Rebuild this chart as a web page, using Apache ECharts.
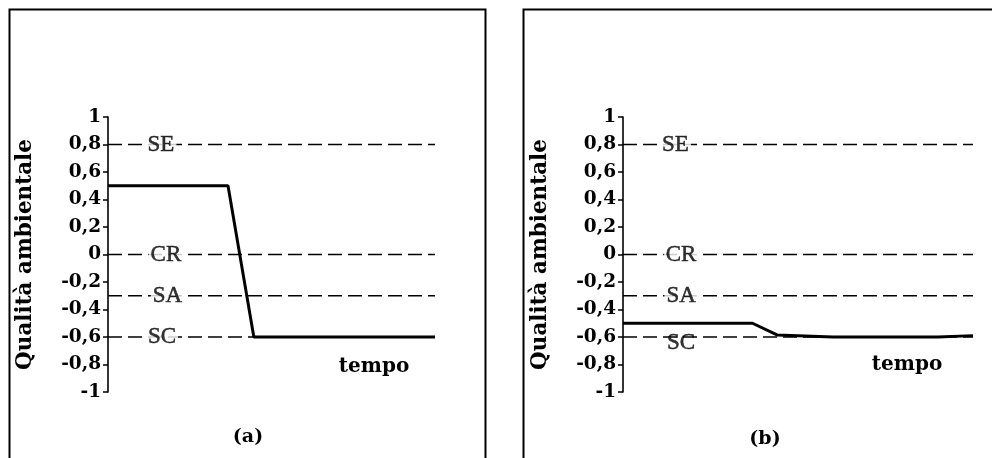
<!DOCTYPE html>
<html>
<head>
<meta charset="utf-8">
<script src="https://cdn.jsdelivr.net/npm/echarts@6/dist/echarts.min.js"></script>
<style>
  html, body { margin: 0; padding: 0; background: #fff; }
  #main { width: 992px; height: 458px; }
</style>
</head>
<body>
<div id="main"></div>
<script>
// tempo (0-100, asse nascosto) e qualità ambientale
var tempoA = [0, 36.7, 44.6, 100];
var qualitaA = [0.5, 0.5, -0.6, -0.6];
var tempoB = [0, 37, 44, 60, 90, 100];
var qualitaB = [-0.5, -0.5, -0.585, -0.6, -0.6, -0.59];

// soglie
var sogliaNomi = ['SE', 'CR', 'SA', 'SC'];
var sogliaValori = [0.8, 0, -0.3, -0.6];
// dove stanno le etichette delle soglie (coordinate dati)
var etichettaXA = [16.2, 17.7, 18.2, 16.5];
var etichettaYA = [0.8, 0, -0.3, -0.6];
var etichettaXB = [15, 16.6, 16.6, 16.6];
var etichettaYB = [0.8, 0, -0.3, -0.64];

var yTicks = { min: -1, max: 1, interval: 0.2 };

var font = 'DejaVu Serif';

function zip(xs, ys) {
  return xs.map(function (x, i) { return [x, ys[i]]; });
}

function yAxisFor(idx) {
  return {
    type: 'value',
    gridIndex: idx,
    min: yTicks.min,
    max: yTicks.max,
    interval: yTicks.interval,
    name: 'Qualità ambientale',
    nameLocation: 'middle',
    nameRotate: 90,
    nameGap: 72,
    nameTextStyle: { fontFamily: font, fontWeight: 'bold', fontSize: 21.5, color: '#000' },
    axisLine: { show: true, lineStyle: { color: '#000', width: 1.6 } },
    axisTick: { show: true, length: 5, lineStyle: { color: '#000', width: 1.5 } },
    splitLine: { show: false },
    axisLabel: {
      color: '#000',
      fontFamily: font,
      fontWeight: 'bold',
      fontSize: 18.5,
      margin: 7,
      formatter: function (v) {
        var r = Math.round(v * 10) / 10;
        return String(r).replace('.', ',');
      }
    }
  };
}

function xAxisFor(idx) {
  return { type: 'value', gridIndex: idx, min: 0, max: 100, show: false };
}

function thresholdSeries(idx) {
  return sogliaValori.map(function (v, i) {
    return {
      type: 'line',
      xAxisIndex: idx,
      yAxisIndex: idx,
      data: [[0, v], [100, v]],
      symbol: 'none',
      silent: true,
      z: 2,
      lineStyle: { color: '#000', width: 1.4, type: [14, 6] }
    };
  });
}

function labelSeries(idx, xs, ys, bgLast) {
  return {
    type: 'scatter',
    xAxisIndex: idx,
    yAxisIndex: idx,
    symbolSize: 0,
    silent: true,
    z: 3,
    data: sogliaNomi.map(function (n, i) {
      var item = { value: [xs[i], ys[i]], name: n };
      if (!bgLast && i === sogliaNomi.length - 1) {
        item.label = { backgroundColor: 'transparent' };
      }
      return item;
    }),
    label: {
      show: true,
      position: 'inside',
      formatter: '{b}',
      color: '#000',
      fontFamily: 'Liberation Serif',
      fontSize: 23,
      textBorderColor: '#000',
      textBorderWidth: 0.5,
      backgroundColor: '#fff',
      padding: [0, 2]
    }
  };
}

function mainSeries(idx, xs, ys) {
  return {
    type: 'line',
    xAxisIndex: idx,
    yAxisIndex: idx,
    data: zip(xs, ys),
    symbol: 'none',
    z: 4,
    lineStyle: { color: '#000', width: 3 }
  };
}

var option = {
  animation: false,
  backgroundColor: '#fff',
  grid: [
    { left: 108, right: 557, top: 117, bottom: 66 },
    { left: 623, right: 19, top: 117, bottom: 66 }
  ],
  xAxis: [xAxisFor(0), xAxisFor(1)],
  yAxis: [yAxisFor(0), yAxisFor(1)],
  series: []
    .concat(thresholdSeries(0))
    .concat(thresholdSeries(1))
    .concat([
      labelSeries(0, etichettaXA, etichettaYA, true),
      labelSeries(1, etichettaXB, etichettaYB, false),
      mainSeries(0, tempoA, qualitaA),
      mainSeries(1, tempoB, qualitaB)
    ]),
  graphic: [
    { type: 'rect', shape: { x: 9.5, y: 9.5, width: 476, height: 470 },
      style: { fill: 'none', stroke: '#000', lineWidth: 2 } },
    { type: 'rect', shape: { x: 523.5, y: 9.5, width: 480, height: 470 },
      style: { fill: 'none', stroke: '#000', lineWidth: 2 } },
    { type: 'text', x: 374, y: 367,
      style: { text: 'tempo', font: 'bold 20px "DejaVu Serif"', fill: '#000', textAlign: 'center', textVerticalAlign: 'middle' } },
    { type: 'text', x: 907, y: 365,
      style: { text: 'tempo', font: 'bold 20px "DejaVu Serif"', fill: '#000', textAlign: 'center', textVerticalAlign: 'middle' } },
    { type: 'text', x: 248, y: 437,
      style: { text: '(a)', font: 'bold 19px "DejaVu Serif"', fill: '#000', textAlign: 'center', textVerticalAlign: 'middle' } },
    { type: 'text', x: 765, y: 439,
      style: { text: '(b)', font: 'bold 19px "DejaVu Serif"', fill: '#000', textAlign: 'center', textVerticalAlign: 'middle' } }
  ]
};

var myChart = echarts.init(document.getElementById('main'));
myChart.setOption(option);
</script>
</body>
</html>
